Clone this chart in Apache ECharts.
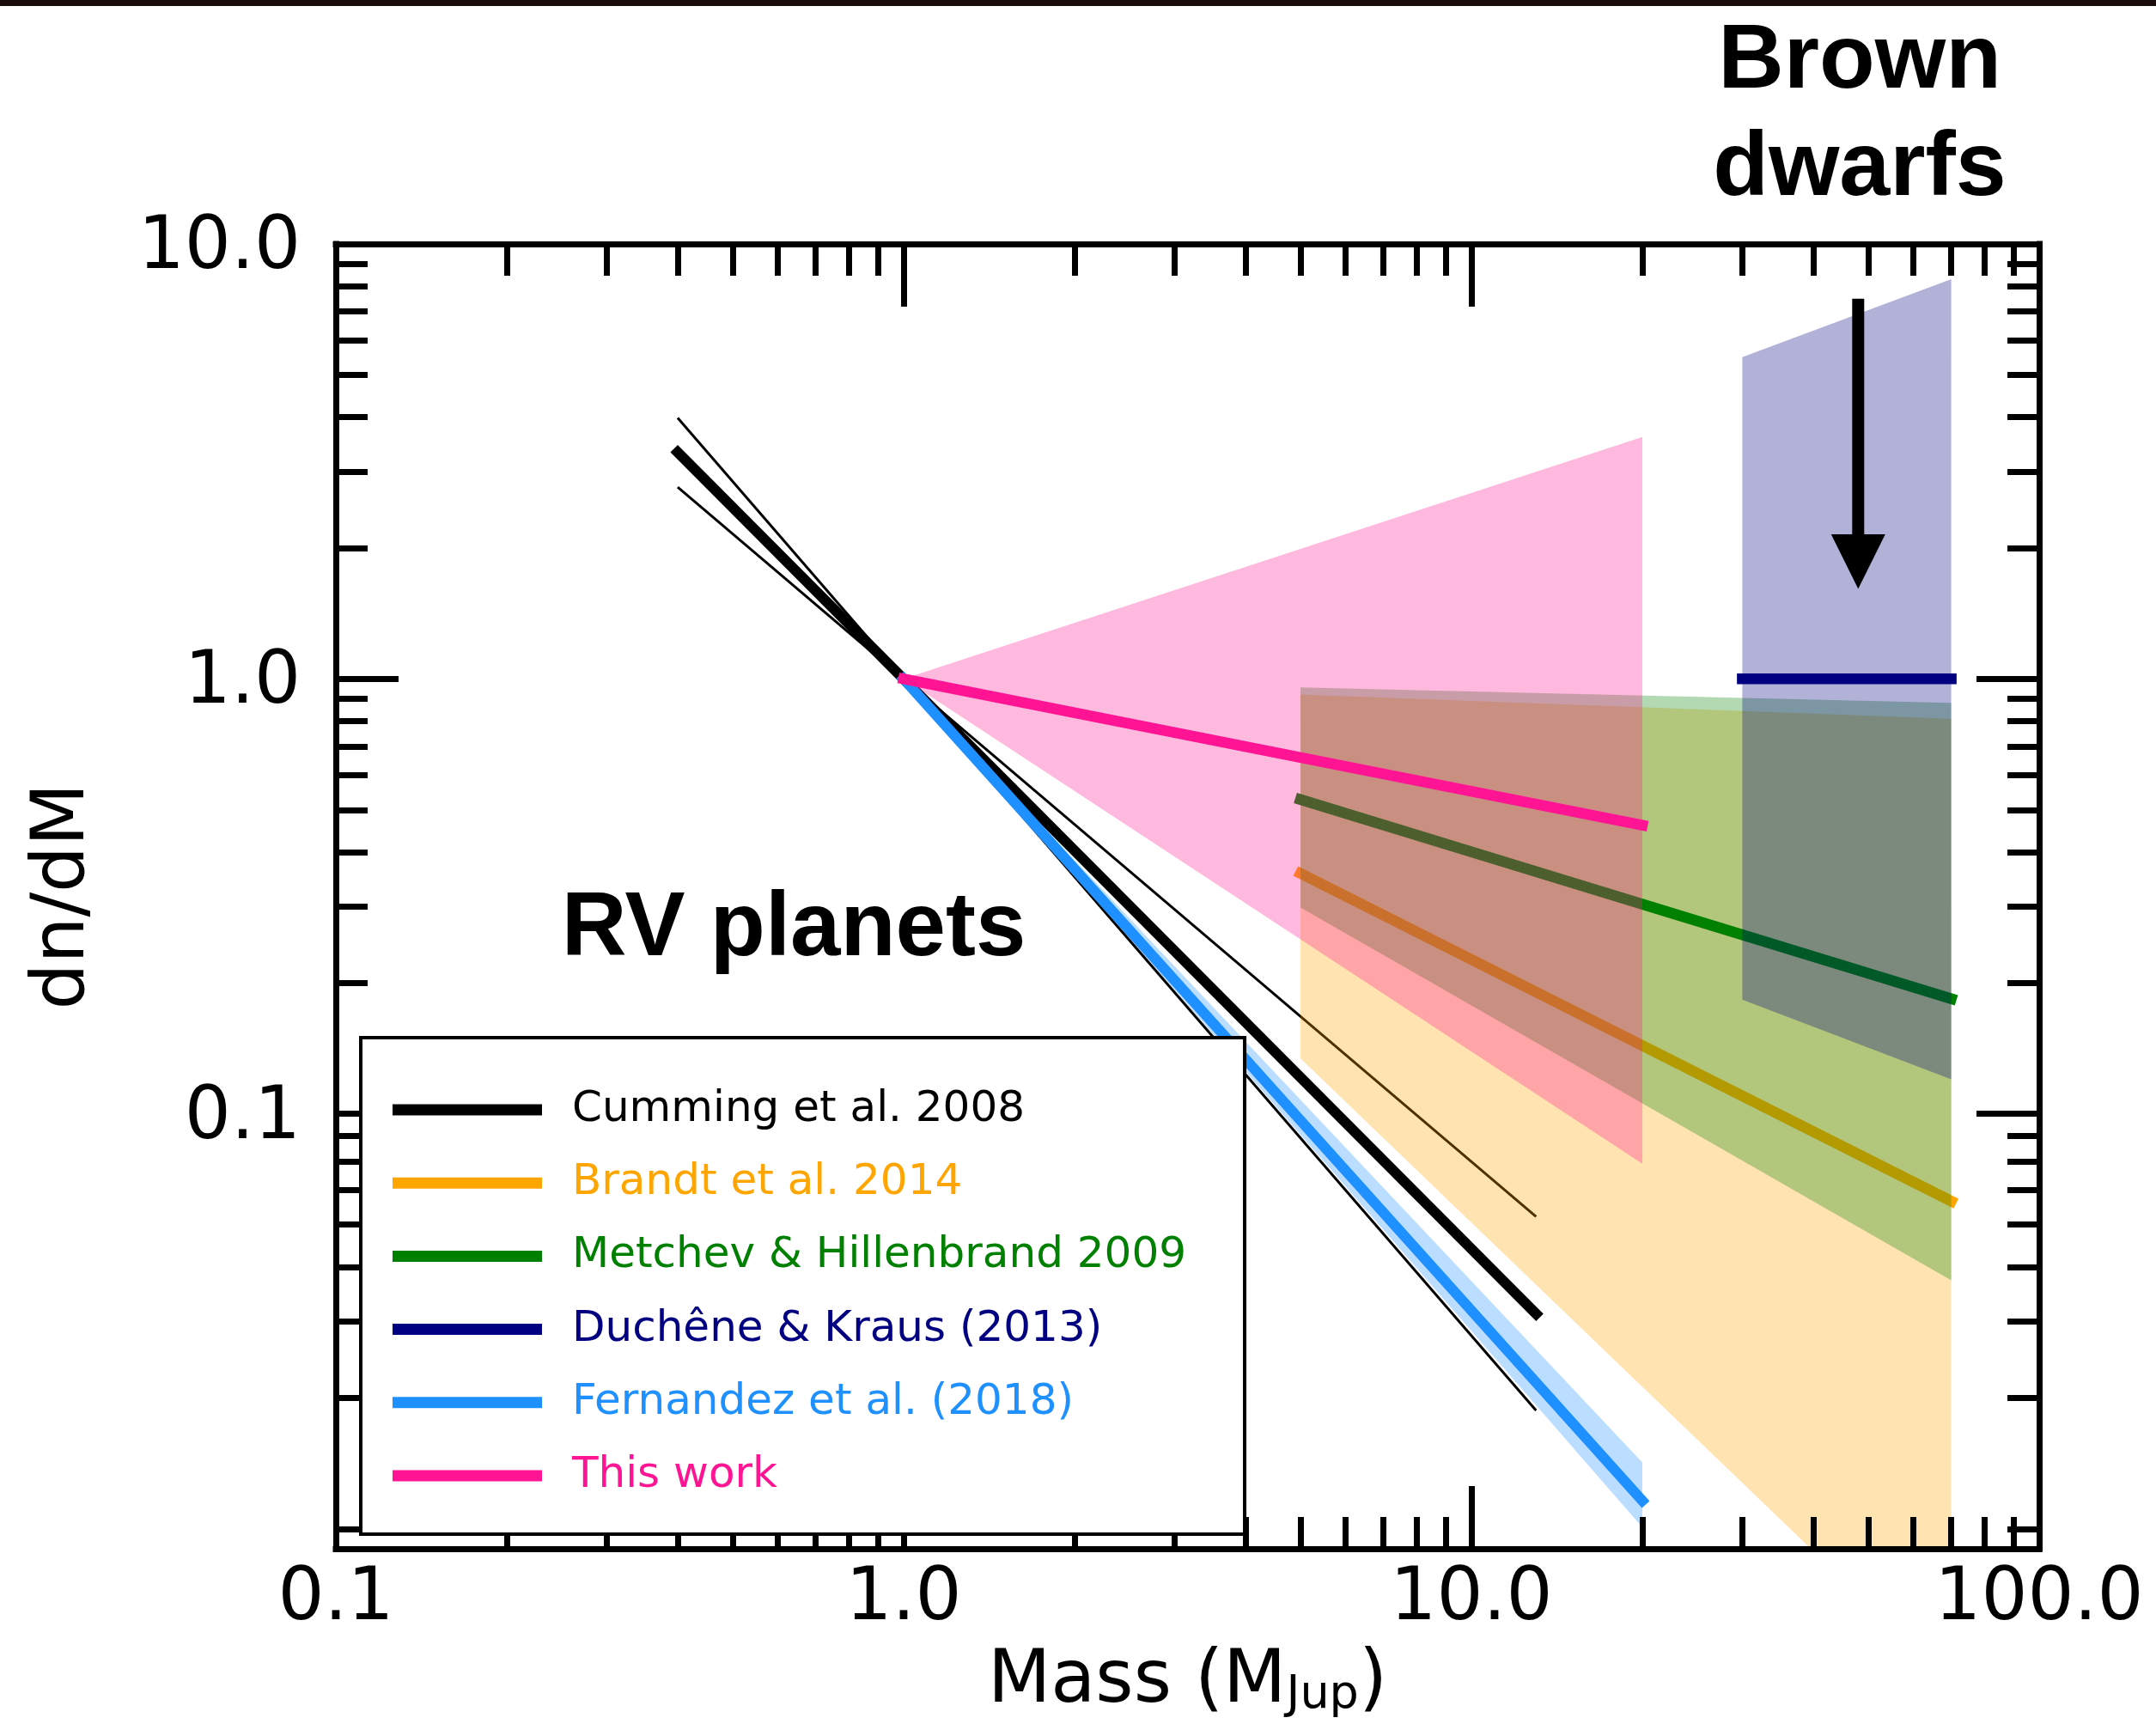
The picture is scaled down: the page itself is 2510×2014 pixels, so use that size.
<!DOCTYPE html>
<html>
<head>
<meta charset="utf-8">
<title>dn/dM versus mass</title>
<script src="https://cdn.jsdelivr.net/npm/echarts@6/dist/echarts.min.js"></script>
<style>
  html, body { margin: 0; padding: 0; background: #fff; }
  #chart { width: 2510px; height: 2014px; }
</style>
</head>
<body>
<div id="chart"></div>
<script>
// ---- Mass ranges (M_Jup) and dn/dM values, normalised to 1 at 1 M_Jup ----
const cummingMass    = [0.4, 13];
const cummingFit     = [3.32, 0.0347];
const cummingSteep   = [3.98, 0.0208];
const cummingShallow = [2.76, 0.058];

const brandtMass  = [5, 70];
const brandtFit   = [0.357, 0.063];
const brandtUpper = [0.921, 0.81];
const brandtLower = [0.134, 0.0049];

const metchevMass  = [5, 70];
const metchevFit   = [0.528, 0.184];
const metchevUpper = [0.956, 0.881];
const metchevLower = [0.298, 0.0414];

const ducheneMass  = [30, 70];
const ducheneFit   = [1, 1];
const ducheneUpper = [5.49, 8.3];
const ducheneLower = [0.183, 0.12];

const fernandezMass  = [1, 20];
const fernandezFit   = [1, 0.0129];
const fernandezUpper = [1, 0.0158];
const fernandezLower = [1, 0.0112];

const thisWorkMass  = [1, 20];
const thisWorkFit   = [1, 0.461];
const thisWorkUpper = [1, 3.6];
const thisWorkLower = [1, 0.0768];

// Brown-dwarf arrow: mass, tail value, head base value, tip value
const arrowMass = 48;
const arrowTail = 7.48;
const arrowHeadBase = 2.15;
const arrowTip = 1.61;

// ---- Tick values and labels ----
const xMajorTicks = [0.1, 1, 10, 100];
const xTickLabels = ['0.1', '1.0', '10.0', '100.0'];
const xMinorTicks = [0.2, 0.3, 0.4, 0.5, 0.6, 0.7, 0.8, 0.9,
                     2, 3, 4, 5, 6, 7, 8, 9,
                     20, 30, 40, 50, 60, 70, 80, 90];
const yMajorTicks = [0.01, 0.1, 1, 10];
const yTickLabels = ['', '0.1', '1.0', '10.0'];
const yMinorTicks = [0.0111, 0.0222, 0.0333, 0.0444, 0.0556, 0.0667, 0.0778, 0.0889,
                     0.2, 0.3, 0.4, 0.5, 0.6, 0.7, 0.8, 0.9,
                     2, 3, 4, 5, 6, 7, 8, 9];

const legendNames  = ['Cumming et al. 2008', 'Brandt et al. 2014', 'Metchev & Hillenbrand 2009',
                      'Duchêne & Kraus (2013)', 'Fernandez et al. (2018)', 'This work'];
const legendColors = ['#000000', '#FFA500', '#008000', '#000080', '#1E90FF', '#FF1493'];

// ---- helpers ----
const lg = Math.log10;
const pts = (xs, ys) => xs.map((x, i) => [x, ys[i]]);
const bandVerts = (xs, up, lo) => pts(xs, up).concat(pts(xs, lo).reverse());
const nearest = (arr, v) => {
  let best = 0;
  arr.forEach((a, i) => { if (Math.abs(a - v) < Math.abs(arr[best] - v)) best = i; });
  return best;
};

function lineSeries(name, xs, ys, color, width, z, cap) {
  return {
    name, type: 'line', xAxisIndex: 0, yAxisIndex: 0,
    data: pts(xs, ys), symbol: 'none', showSymbol: false,
    color, itemStyle: { color },
    lineStyle: { color, width, cap: cap || 'square' },
    z, silent: true, clip: true
  };
}

function bandSeries(name, xs, up, lo, fill, z) {
  const verts = bandVerts(xs, up, lo);
  return {
    name, type: 'custom', coordinateSystem: 'cartesian2d', xAxisIndex: 0, yAxisIndex: 0,
    data: verts, encode: { x: 0, y: 1 }, clip: true, z, silent: true,
    renderItem: (params, api) => params.dataIndex === 0 ? {
      type: 'polygon',
      shape: { points: verts.map(v => api.coord(v)) },
      style: { fill }
    } : null
  };
}

const FONT = 'DejaVu Sans';
const BLACK = '#000';
const lineW = 7;

function frameAxis(dim, position, range, ticks, len, withLine, labelVals, labels, extra) {
  const ax = {
    type: 'value', position, min: range[0], max: range[1], interval: 1,
    gridIndex: 0, z: 15, silent: true,
    axisLine: { show: withLine, onZero: false, lineStyle: { color: BLACK, width: lineW, cap: 'square' } },
    axisTick: { show: true, inside: true, length: len, customValues: ticks.map(lg),
                lineStyle: { color: BLACK, width: lineW } },
    splitLine: { show: false },
    axisLabel: { show: false },
    nameMoveOverlap: false
  };
  if (labelVals) {
    const logVals = labelVals.map(lg);
    ax.axisLabel = dim === 'x' ? {
      show: true, customValues: logVals,
      formatter: v => labels[nearest(logVals, v)],
      fontSize: 85, fontFamily: FONT, color: BLACK, lineHeight: 85, margin: 17
    } : {
      // short line box hung from the tick puts the digits' centre on the tick
      show: true, customValues: logVals,
      formatter: v => labels[nearest(logVals, v)],
      fontSize: 85, fontFamily: FONT, color: BLACK, lineHeight: 12,
      verticalAlign: 'top', margin: 41
    };
  }
  return Object.assign(ax, extra || {});
}

const xRange = [lg(0.1), lg(100)];
const yRange = [lg(0.01), lg(10)];
const yLabelVals = yMajorTicks.filter((v, i) => yTickLabels[i] !== '');
const yLabelText = yTickLabels.filter(t => t !== '');

const option = {
  backgroundColor: '#fff',
  animation: false,
  textStyle: { fontFamily: FONT },
  grid: { left: 391, top: 284, width: 1983, height: 1519, containLabel: false, outerBoundsMode: 'none', show: false },
  xAxis: [
    { type: 'log', logBase: 10, min: 0.1, max: 100, show: false, gridIndex: 0, axisLine: { onZero: false } },
    frameAxis('x', 'bottom', xRange, xMajorTicks, 73, true, xMajorTicks, xTickLabels, {
      name: '{m|Mass (M}{s|Jup}{m|)}', nameLocation: 'middle', nameGap: 98,
      nameTextStyle: {
        fontFamily: FONT, fontSize: 85, color: BLACK,
        rich: {
          m: { fontFamily: FONT, fontSize: 85, color: BLACK, lineHeight: 100, verticalAlign: 'bottom' },
          s: { fontFamily: FONT, fontSize: 54, color: BLACK, lineHeight: 35, verticalAlign: 'bottom' }
        }
      }
    }),
    frameAxis('x', 'bottom', xRange, xMinorTicks, 37, false),
    frameAxis('x', 'top', xRange, xMajorTicks, 73, true),
    frameAxis('x', 'top', xRange, xMinorTicks, 37, false)
  ],
  yAxis: [
    { type: 'log', logBase: 10, min: 0.01, max: 10, show: false, gridIndex: 0, axisLine: { onZero: false } },
    frameAxis('y', 'left', yRange, yMajorTicks, 73, true, yLabelVals, yLabelText, {
      name: 'dn/dM', nameLocation: 'middle', nameRotate: 90, nameGap: 266,
      nameTextStyle: { fontFamily: FONT, fontSize: 85, color: BLACK, lineHeight: 100 }
    }),
    frameAxis('y', 'left', yRange, yMinorTicks, 37, false),
    frameAxis('y', 'right', yRange, yMajorTicks, 73, true),
    frameAxis('y', 'right', yRange, yMinorTicks, 37, false)
  ],
  legend: {
    show: true, orient: 'vertical', left: 420, top: 1208,
    padding: [59, 68, 43, 37], itemGap: 35.2, itemWidth: 174, itemHeight: 13,
    icon: 'rect', backgroundColor: '#fff', borderColor: BLACK, borderWidth: 4, borderRadius: 0,
    selectedMode: false, z: 20,
    itemStyle: { borderWidth: 0 },
    textStyle: { fontSize: 50, fontFamily: FONT, lineHeight: 50, padding: [0, 0, 0, 30] },
    data: legendNames.map((n, i) => ({
      name: n,
      itemStyle: { color: legendColors[i], borderWidth: 0 },
      textStyle: { color: legendColors[i], fontSize: 50, fontFamily: FONT }
    }))
  },
  series: [
    lineSeries('Cumming et al. 2008 steep bound', cummingMass, cummingSteep, '#000000', 3, 2, 'butt'),
    lineSeries('Cumming et al. 2008 shallow bound', cummingMass, cummingShallow, '#000000', 3, 2, 'butt'),
    lineSeries('Cumming et al. 2008', cummingMass, cummingFit, '#000000', 12, 3),
    bandSeries('Fernandez et al. (2018) range', fernandezMass, fernandezUpper, fernandezLower, 'rgba(30,144,255,0.3)', 4),
    lineSeries('Fernandez et al. (2018)', fernandezMass, fernandezFit, '#1E90FF', 12, 5),
    lineSeries('Brandt et al. 2014', brandtMass, brandtFit, '#FFA500', 12.5, 5),
    bandSeries('Brandt et al. 2014 range', brandtMass, brandtUpper, brandtLower, 'rgba(255,165,0,0.3)', 6),
    lineSeries('Metchev & Hillenbrand 2009', metchevMass, metchevFit, '#008000', 12.5, 7),
    bandSeries('Metchev & Hillenbrand 2009 range', metchevMass, metchevUpper, metchevLower, 'rgba(0,128,0,0.3)', 8),
    bandSeries('Duchêne & Kraus (2013) range', ducheneMass, ducheneUpper, ducheneLower, 'rgba(0,0,128,0.3)', 9),
    lineSeries('Duchêne & Kraus (2013)', ducheneMass, ducheneFit, '#000080', 12.5, 10),
    bandSeries('This work range', thisWorkMass, thisWorkUpper, thisWorkLower, 'rgba(255,20,147,0.3)', 11),
    lineSeries('This work', thisWorkMass, thisWorkFit, '#FF1493', 12.5, 12),
    {
      name: 'Brown dwarf upper limit', type: 'custom', coordinateSystem: 'cartesian2d',
      xAxisIndex: 0, yAxisIndex: 0, z: 13, silent: true,
      data: [[arrowMass, arrowTail, arrowHeadBase, arrowTip]],
      encode: { x: 0, y: [1, 2, 3] },
      renderItem: (params, api) => {
        const m = api.value(0);
        const tail = api.coord([m, api.value(1)]);
        const base = api.coord([m, api.value(2)]);
        const tip = api.coord([m, api.value(3)]);
        return {
          type: 'group',
          children: [
            { type: 'rect', shape: { x: tail[0] - 7, y: tail[1], width: 14, height: base[1] - tail[1] + 1 },
              style: { fill: BLACK } },
            { type: 'polygon', shape: { points: [[base[0] - 31.5, base[1]], [base[0] + 31.5, base[1]], tip] },
              style: { fill: BLACK } }
          ]
        };
      }
    }
  ],
  graphic: [
    { type: 'rect', z: 30, silent: true, shape: { x: 0, y: 0, width: 2510, height: 7 }, style: { fill: '#1a0c0b' } },
    { type: 'text', z: 30, silent: true, x: 924, y: 1083,
      style: { text: 'RV planets', fontSize: 105, fontWeight: 'bold', fontFamily: 'Liberation Sans',
               fill: BLACK, align: 'center', verticalAlign: 'middle', textAlign: 'center', textVerticalAlign: 'middle' } },
    { type: 'text', z: 30, silent: true, x: 2165, y: 135,
      style: { text: 'Brown\ndwarfs', fontSize: 106, fontWeight: 'bold', fontFamily: 'Liberation Sans', lineHeight: 125,
               fill: BLACK, align: 'center', verticalAlign: 'middle', textAlign: 'center', textVerticalAlign: 'middle' } }
  ]
};

const chart = echarts.init(document.getElementById('chart'), null, { renderer: 'canvas', width: 2510, height: 2014 });
chart.setOption(option);
</script>
</body>
</html>
